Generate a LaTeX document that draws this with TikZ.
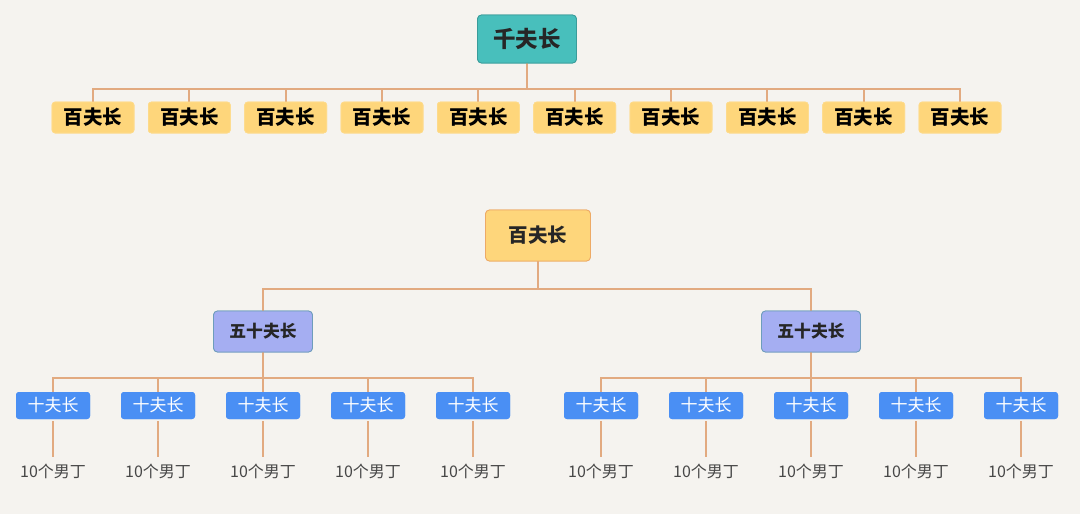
\documentclass[tikz,border=0pt]{standalone}
\usepackage{fontspec}
\setmainfont{Noto Sans CJK SC}
\usetikzlibrary{calc}
\definecolor{bg}{HTML}{F5F3EF}
\definecolor{tealf}{HTML}{48BFBC}
\definecolor{teald}{HTML}{3A9C9A}
\definecolor{yell}{HTML}{FED67B}
\definecolor{yelld}{HTML}{EDAA66}
\definecolor{purp}{HTML}{A5AEF2}
\definecolor{purpd}{HTML}{6E9DBB}
\definecolor{blu}{HTML}{4A8FF4}
\definecolor{conn}{HTML}{E2AA80}
\definecolor{txt}{HTML}{262626}
\tikzset{
  qianbox/.style={draw=teald, line width=0.8pt, fill=tealf, rounded corners=4pt, minimum width=99pt, minimum height=48pt, inner sep=0pt, font=\fontsize{22.5}{26}\selectfont\bfseries, text=txt},
  baibox/.style={draw=yell!85!white, line width=0.6pt, fill=yell, rounded corners=3pt, minimum width=82pt, minimum height=31pt, inner sep=0pt, font=\fontsize{19.5}{22}\selectfont\bfseries, text=black},
  baibig/.style={draw=yelld, line width=0.8pt, fill=yell, rounded corners=4pt, minimum width=105pt, minimum height=51pt, inner sep=0pt, font=\fontsize{19.5}{22}\selectfont\bfseries, text=txt},
  wubox/.style={draw=purpd, line width=0.8pt, fill=purp, rounded corners=4pt, minimum width=99pt, minimum height=41pt, inner sep=0pt, font=\fontsize{16.8}{20}\selectfont\bfseries, text=txt},
  shibox/.style={fill=blu, rounded corners=3pt, minimum width=74pt, minimum height=27pt, inner sep=0pt, font=\fontsize{17}{20}\selectfont, text=white},
  manlab/.style={inner xsep=0pt, inner ysep=6pt, text height=14pt, text depth=2pt, font=\fontsize{16}{20}\selectfont, text=txt!85!white},
  cn/.style={draw=conn, line width=1.8pt}
}
\begin{document}
\begin{tikzpicture}[x=1pt,y=-1pt]
\fill[bg] (0,0) rectangle (1080,514);
\useasboundingbox (0,0) rectangle (1080,514);
% top tree
\node[qianbox] (q) at (527,39) {千夫长};
\coordinate (qbar) at (527,89);
\foreach \i/\x in {1/93,2/189.3,3/285.7,4/382,5/478.3,6/574.7,7/671,8/767.3,9/863.7,10/960}{
  \node[baibox] (b\i) at (\x,117.5) {百夫长};
}
\draw[cn] (q.south) -- (qbar);
\foreach \i in {1,...,10}{ \draw[cn] (qbar) -| (b\i.north); }
% bottom tree
\node[baibig] (B) at (538,235.5) {百夫长};
\coordinate (Bbar) at (538,289);
\node[wubox] (W1) at (263,331.5) {五十夫长};
\node[wubox] (W2) at (811,331.5) {五十夫长};
\draw[cn] (B.south) -- (Bbar);
\draw[cn] (Bbar) -| (W1.north);
\draw[cn] (Bbar) -| (W2.north);
\coordinate (L1) at (263,378);
\coordinate (L2) at (811,378);
\draw[cn] (W1.south) -- (L1);
\draw[cn] (W2.south) -- (L2);
\foreach \i/\x in {1/53,2/158,3/263,4/368,5/473}{
  \node[shibox] (s\i) at (\x,405.5) {十夫长};
  \node[manlab] (m\i) at (\x,471) {10个男丁};
  \draw[cn] (L1) -| (s\i.north);
  \draw[cn, shorten <=2pt] (s\i.south) -- (m\i.north);
}
\foreach \i/\x in {6/601,7/706,8/811,9/916,10/1021}{
  \node[shibox] (s\i) at (\x,405.5) {十夫长};
  \node[manlab] (m\i) at (\x,471) {10个男丁};
  \draw[cn] (L2) -| (s\i.north);
  \draw[cn, shorten <=2pt] (s\i.south) -- (m\i.north);
}
% redraw boxes on top of connectors
\node[qianbox] at (q) {千夫长};
\node[baibig] at (B) {百夫长};
\node[wubox] at (W1) {五十夫长};
\node[wubox] at (W2) {五十夫长};
\foreach \i in {1,...,10}{ \node[shibox] at (s\i) {十夫长}; \node[baibox] at (b\i) {百夫长}; }
\end{tikzpicture}
\end{document}
